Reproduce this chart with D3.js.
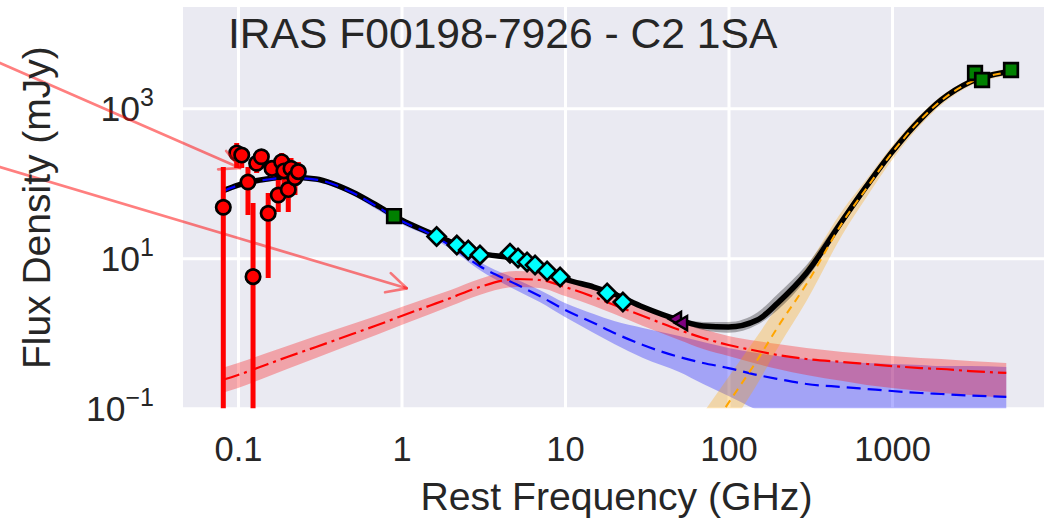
<!DOCTYPE html>
<html>
<head>
<meta charset="utf-8">
<script src="https://cdn.jsdelivr.net/npm/d3@7"></script>
<style>
  body { margin: 0; background: #ffffff; }
  svg { display: block; font-family: "Liberation Sans", Arial, Helvetica, sans-serif; }
</style>
</head>
<body>
<svg id="chart" width="1044" height="518"></svg>
<script>
// ---------------- SED model components (GHz, mJy) ----------------
const modelFreq = [0.08, 0.1, 0.15, 0.2, 0.3, 0.5, 0.7, 1, 1.5, 2, 3, 5, 7, 10, 15, 20, 30, 50, 70,
                   100, 150, 200, 300, 500, 700, 1000, 1500, 2000, 3000, 5000];

// total model
const totalFlux = [78.9, 94.9, 114, 121, 114, 76.6, 51.4, 32.4, 21.7, 16.5, 11.8, 9.79, 7.66, 5.30, 4.14,
                   3.34, 2.24, 1.50, 1.25, 1.21, 1.50, 2.54, 6.37, 32.4, 92.1, 261, 720, 1291, 2243, 3050];
const totalHi = [83.9, 101, 121, 129, 121, 81.4, 54.6, 34.4, 23.1, 17.5, 12.5, 10.4, 8.14, 5.63, 4.40,
                 3.55, 2.38, 1.60, 1.42, 1.42, 1.90, 3.34, 8.14, 37.8, 101, 286, 770, 1380, 2340, 3200];
const totalLo = [74.2, 89.3, 107, 114, 107, 72.1, 48.4, 30.5, 20.4, 15.5, 11.1, 9.21, 7.21, 4.99, 3.89,
                 3.14, 2.11, 1.42, 1.11, 1.02, 1.30, 2.05, 5.30, 28.6, 84.0, 240, 675, 1210, 2100, 2900];

// synchrotron
const syncFlux = [77.8, 93.5, 112, 119, 112, 75.4, 49.8, 31.4, 21.1, 14.6, 7.89, 4.54, 3.14, 2.05, 1.37,
                  1.01, 0.698, 0.483, 0.402, 0.344, 0.278, 0.246, 0.211, 0.192, 0.181, 0.170, 0.160,
                  0.155, 0.148, 0.142];
const syncHi = [84.0, 101, 121, 129, 121, 81.5, 54.6, 34.4, 23.1, 16.0, 8.93, 5.30, 3.78, 2.54, 1.81,
                1.46, 1.18, 0.920, 0.766, 0.637, 0.546, 0.498, 0.454, 0.414, 0.402, 0.390, 0.378,
                0.366, 0.366, 0.356];
const syncLo = [72.0, 86.5, 104, 111, 104, 69.8, 45.4, 28.6, 19.2, 13.3, 6.98, 3.78, 2.61, 1.65, 1.01,
                0.720, 0.469, 0.305, 0.211, 0.146, 0.0949, 0.0742, 0.0599, 0.0514, 0.0483, 0.0469,
                0.0454, 0.0441, 0.0427, 0.0427];

// free-free
const ffFlux = [0.238, 0.278, 0.384, 0.483, 0.657, 0.979, 1.27, 1.70, 2.35, 2.96, 4.14, 5.30, 5.14, 4.14,
                3.05, 2.38, 1.70, 1.11, 0.865, 0.698, 0.581, 0.514, 0.454, 0.414, 0.390, 0.366, 0.344,
                0.334, 0.314, 0.296];
const ffHi = [0.345, 0.402, 0.546, 0.677, 0.920, 1.33, 1.70, 2.24, 3.05, 3.78, 5.30, 6.77, 6.57, 5.30,
              3.90, 3.05, 2.24, 1.46, 1.14, 0.920, 0.789, 0.720, 0.637, 0.564, 0.530, 0.498, 0.469,
              0.454, 0.427, 0.402];
const ffLo = [0.160, 0.187, 0.261, 0.334, 0.469, 0.720, 0.949, 1.29, 1.81, 2.31, 3.24, 4.14, 4.02, 3.14,
              2.31, 1.81, 1.25, 0.815, 0.618, 0.498, 0.390, 0.334, 0.278, 0.231, 0.205, 0.187, 0.170,
              0.160, 0.150, 0.137];

// thermal dust
const dustFreq = [50, 70, 100, 150, 200, 300, 500, 700, 1000, 1500, 2000, 3000, 5000];
const dustFlux = [0.0121, 0.0366, 0.118, 0.441, 1.21, 4.54, 30.5, 86.5, 254, 709, 1270, 2208, 3000];
const dustHi = [0.0305, 0.0865, 0.261, 0.920, 2.31, 7.66, 44.1, 114, 314, 839, 1459, 2460, 3342];
const dustLo = [0.00483, 0.0155, 0.0530, 0.211, 0.637, 2.70, 21.1, 65.7, 205, 599, 1107, 1982, 2698];

// ---------------- photometry ----------------
// low-frequency radio points with error bars
const radioFreq = [0.0813, 0.0982, 0.1054, 0.1151, 0.1236, 0.130, 0.139, 0.153, 0.1614, 0.1763,
                   0.185, 0.191, 0.203, 0.211, 0.223, 0.234];
const radioFlux = [47.9, 254, 238, 104, 5.69, 185, 226, 39.8, 158, 69.8, 194, 146, 82.6, 158, 119, 143];
const radioErrLo = [0.001, 160, 160, 37.8, 0.001, 137, 175, 5.46, 121, 41.4, 150, 94.9, 41.4, 111, 69.8, 104];
const radioErrHi = [165, 345, 296, 165, 54.6, 238, 278, 74, 205, 111, 254, 205, 111, 217, 160, 192];

// GHz radio points
const cmFreq = [1.64, 2.18, 2.56, 3.02, 4.61, 5.16, 5.86, 6.56, 7.77, 9.33, 18.1, 22.6];
const cmFlux = [19.5, 15.0, 12.9, 11.1, 11.7, 10.1, 8.93, 8.14, 6.77, 5.63, 3.45, 2.61];

// 1 GHz point and far-infrared points
const sqFreq = [0.900, 3220, 3555, 5345];
const sqFlux = [36.6, 2958, 2384, 3243];

// upper limits
const limFreq = [48.4, 52.7];
const limFlux = [1.55, 1.37];

// annotation arrows (tail -> tip)
const arrowTailFreq = [0.0035, 0.0035];
const arrowTailFlux = [4018, 165];
const arrowTipFreq = [0.103, 1.076];
const arrowTipFlux = [160, 3.98];

// axis ticks
const xTicks = [0.1, 1, 10, 100, 1000];
const xTickLabels = ["0.1", "1", "10", "100", "1000"];
const yTicks = [0.1, 10, 1000];
const yTickExp = ["\u22121", "1", "3"];

const titleText = "IRAS F00198-7926 - C2 1SA";
const xLabel = "Rest Frequency (GHz)";
const yLabel = "Flux Density (mJy)";

// ---------------- layout ----------------
const plot = { left: 183, top: 7, right: 1050, bottom: 408.3 };
const x = d3.scaleLog().domain([0.1, 1000]).range([238, 892]);
const y = d3.scaleLog().domain([0.1, 1000]).range([408.3, 108.3]);
const textColor = "#262626";

const svg = d3.select("#chart");

svg.append("defs").append("clipPath").attr("id", "plot-clip")
  .append("rect")
  .attr("x", plot.left).attr("y", plot.top)
  .attr("width", plot.right - plot.left).attr("height", plot.bottom - plot.top);

svg.append("rect")
  .attr("x", plot.left).attr("y", plot.top)
  .attr("width", plot.right - plot.left).attr("height", plot.bottom - plot.top)
  .attr("fill", "#eaeaf2");

// grid + tick labels
const gx = svg.append("g")
  .attr("transform", `translate(0,${plot.bottom})`)
  .call(d3.axisBottom(x).tickValues(xTicks)
    .tickSize(-(plot.bottom - plot.top))
    .tickFormat((d, i) => xTickLabels[i]));
gx.select(".domain").remove();
gx.selectAll(".tick line").attr("stroke", "#ffffff").attr("stroke-width", 3);
gx.selectAll(".tick text")
  .attr("y", 53.2).attr("dy", null)
  .attr("fill", textColor).attr("font-size", 34.5)
  .attr("font-family", "Liberation Sans, Arial, sans-serif");

const gy = svg.append("g")
  .attr("transform", `translate(${plot.left},0)`)
  .call(d3.axisLeft(y).tickValues(yTicks)
    .tickSize(-(plot.right - plot.left))
    .tickFormat(() => ""));
gy.select(".domain").remove();
gy.selectAll(".tick line").attr("stroke", "#ffffff").attr("stroke-width", 3);
gy.selectAll(".tick text").remove();

// y tick labels as 10 with superscript exponent
const yLab = svg.append("g");
yTicks.forEach((v, i) => {
  const t = yLab.append("text")
    .attr("x", 154).attr("y", y(v) + 12.5)
    .attr("text-anchor", "end")
    .attr("fill", textColor).attr("font-size", 35.5);
  t.append("tspan").text("10");
  t.append("tspan").attr("font-size", 25).attr("dy", -15).text(yTickExp[i]);
});

// ---------------- model curves ----------------
const modelPts = modelFreq.map((f, i) => ({ f, v: totalFlux[i], lo: totalLo[i], hi: totalHi[i],
  s: syncFlux[i], sLo: syncLo[i], sHi: syncHi[i], ff: ffFlux[i], ffLo: ffLo[i], ffHi: ffHi[i] }));
const dustPts = dustFreq.map((f, i) => ({ f, v: dustFlux[i], lo: dustLo[i], hi: dustHi[i] }));

const g = svg.append("g").attr("clip-path", "url(#plot-clip)");

const band = (lo, hi) => d3.area().x(d => x(d.f)).y0(d => y(d[lo])).y1(d => y(d[hi])).curve(d3.curveMonotoneX);
const line = key => d3.line().x(d => x(d.f)).y(d => y(d[key])).curve(d3.curveMonotoneX);

g.append("path").datum(modelPts).attr("d", band("sLo", "sHi")).attr("fill", "#0000ff").attr("fill-opacity", 0.3);
g.append("path").datum(modelPts).attr("d", band("ffLo", "ffHi")).attr("fill", "#ff0000").attr("fill-opacity", 0.3);
g.append("path").datum(dustPts).attr("d", band("lo", "hi")).attr("fill", "#ffa500").attr("fill-opacity", 0.3);
g.append("path").datum(modelPts).attr("d", band("lo", "hi")).attr("fill", "#000000").attr("fill-opacity", 0.3);

g.append("path").datum(modelPts).attr("d", line("v"))
  .attr("fill", "none").attr("stroke", "#000000").attr("stroke-width", 5.5);
g.append("path").datum(modelPts).attr("d", line("s"))
  .attr("fill", "none").attr("stroke", "#0000ff").attr("stroke-width", 2.2)
  .attr("stroke-dasharray", "14,7");
g.append("path").datum(modelPts).attr("d", line("ff"))
  .attr("fill", "none").attr("stroke", "#ff0000").attr("stroke-width", 2.2)
  .attr("stroke-dasharray", "18,5,3,5");
g.append("path").datum(dustPts).attr("d", line("v"))
  .attr("fill", "none").attr("stroke", "#ffa500").attr("stroke-width", 2)
  .attr("stroke-dasharray", "8,6");

// ---------------- data points ----------------
const pts = svg.append("g").attr("clip-path", "url(#plot-clip)");

pts.selectAll(".err").data(radioFreq).join("line")
  .attr("x1", d => x(d)).attr("x2", d => x(d))
  .attr("y1", (d, i) => y(radioErrLo[i])).attr("y2", (d, i) => y(radioErrHi[i]))
  .attr("stroke", "#ff0000").attr("stroke-width", 5);

pts.selectAll(".radio").data(radioFreq).join("circle")
  .attr("cx", d => x(d)).attr("cy", (d, i) => y(radioFlux[i])).attr("r", 7.2)
  .attr("fill", "#ff0000").attr("stroke", "#000000").attr("stroke-width", 2.7);

pts.selectAll(".cm").data(cmFreq).join("path")
  .attr("d", d3.symbol(d3.symbolSquare, 165)())
  .attr("transform", (d, i) => `translate(${x(d)},${y(cmFlux[i])}) rotate(45)`)
  .attr("fill", "#00ffff").attr("stroke", "#000000").attr("stroke-width", 2.7);

pts.selectAll(".sq").data(sqFreq).join("path")
  .attr("d", d3.symbol(d3.symbolSquare, 185)())
  .attr("transform", (d, i) => `translate(${x(d)},${y(sqFlux[i])})`)
  .attr("fill", "#008000").attr("stroke", "#000000").attr("stroke-width", 2.7);

pts.selectAll(".lim").data(limFreq).join("path")
  .attr("d", d3.symbol(d3.symbolTriangle, 85)())
  .attr("transform", (d, i) => `translate(${x(d)},${y(limFlux[i])}) rotate(-90)`)
  .attr("fill", "#800080").attr("stroke", "#000000").attr("stroke-width", 2.5);

// ---------------- annotation arrows (drawn above the data) ----------------
const arrows = svg.append("g").attr("stroke", "#ff0000").attr("stroke-opacity", 0.5)
  .attr("stroke-width", 2.7).attr("fill", "none").attr("stroke-linecap", "round");
arrowTipFreq.forEach((f, i) => {
  const x0 = x(arrowTailFreq[i]), y0 = y(arrowTailFlux[i]);
  const x1 = x(f), y1 = y(arrowTipFlux[i]);
  const ang = Math.atan2(y1 - y0, x1 - x0);
  const L = 22, spread = 27 * Math.PI / 180;
  const a1 = [x1 - L * Math.cos(ang - spread), y1 - L * Math.sin(ang - spread)];
  const a2 = [x1 - L * Math.cos(ang + spread), y1 - L * Math.sin(ang + spread)];
  arrows.append("path").attr("d", `M${x0},${y0}L${x1},${y1}`);
  arrows.append("path").attr("d", `M${a1[0]},${a1[1]}L${x1},${y1}L${a2[0]},${a2[1]}`)
    .attr("stroke-linejoin", "round");
});

// ---------------- text ----------------
svg.append("text")
  .attr("x", 228).attr("y", 48)
  .attr("fill", textColor).attr("font-size", 42.6)
  .text(titleText);

svg.append("text")
  .attr("x", (plot.left + plot.right) / 2).attr("y", 510)
  .attr("text-anchor", "middle")
  .attr("fill", textColor).attr("font-size", 39.2)
  .text(xLabel);

svg.append("text")
  .attr("transform", `translate(50,${(plot.top + plot.bottom) / 2}) rotate(-90)`)
  .attr("text-anchor", "middle")
  .attr("fill", textColor).attr("font-size", 39)
  .text(yLabel);
</script>
</body>
</html>
